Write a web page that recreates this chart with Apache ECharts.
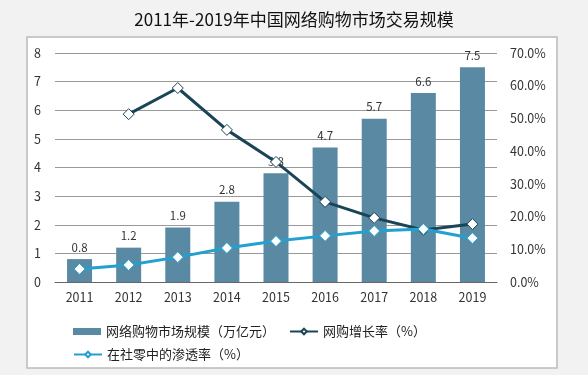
<!DOCTYPE html>
<html lang="zh">
<head>
<meta charset="utf-8">
<title>2011年-2019年中国网络购物市场交易规模</title>
<script src="https://cdn.jsdelivr.net/npm/echarts@6/dist/echarts.min.js"></script>
<style>
  html, body { margin: 0; padding: 0; background: #f2f2f2; }
  #main { width: 588px; height: 375px; }
</style>
</head>
<body>
<div id="main"></div>
<script type="text/javascript">
  // 年份
  var years = ['2011', '2012', '2013', '2014', '2015', '2016', '2017', '2018', '2019'];
  // 网络购物市场规模（万亿元）
  var scale = [0.8, 1.2, 1.9, 2.8, 3.8, 4.7, 5.7, 6.6, 7.5];
  // 网购增长率（%），2011 无数据
  var growth = [null, 51.3, 59.3, 46.5, 36.7, 24.5, 19.6, 15.9, 17.7];
  // 在社零中的渗透率（%）
  var penetration = [4.0, 5.2, 7.6, 10.4, 12.5, 14.1, 15.6, 16.2, 13.4];

  var font = '"Microsoft YaHei", "Noto Sans CJK SC", sans-serif';
  var chart = echarts.init(document.getElementById('main'));

  var option = {
    backgroundColor: '#f2f2f2',
    textStyle: { fontFamily: font },
    title: {
      text: '2011年-2019年中国网络购物市场交易规模',
      left: 'center',
      top: 6,
      textStyle: { fontSize: 17, fontWeight: 'normal', color: '#111', fontFamily: font }
    },
    graphic: [{
      type: 'rect',
      z: -1,
      shape: { x: 27, y: 37, width: 530, height: 331 },
      style: { fill: '#fff', stroke: '#bbb', lineWidth: 1.5 }
    }],
    legend: [{
      left: 68, top: 320, itemGap: 14, itemWidth: 28, itemHeight: 7,
      textStyle: { fontSize: 13, color: '#222' },
      data: [{ name: '网络购物市场规模（万亿元）', icon: 'rect' }, '网购增长率（%）']
    }, {
      left: 68, top: 343, itemWidth: 28, itemHeight: 7,
      textStyle: { fontSize: 13, color: '#222' },
      data: ['在社零中的渗透率（%）']
    }],
    grid: { left: 55, right: 91, top: 53, bottom: 93 },
    xAxis: {
      type: 'category',
      data: years,
      axisTick: { show: false },
      axisLine: { lineStyle: { color: '#666' } },
      axisLabel: { color: '#333', fontSize: 12.5, margin: 9 }
    },
    yAxis: [{
      type: 'value', min: 0, max: 8, interval: 1,
      axisLabel: { color: '#333', fontSize: 12.5, margin: 14 },
      splitLine: { lineStyle: { color: '#999' } }
    }, {
      type: 'value', min: 0, max: 70, interval: 10,
      axisLabel: { color: '#333', fontSize: 12.5, margin: 13,
        formatter: function (v) { return v.toFixed(1) + '%'; } },
      splitLine: { show: false }
    }],
    series: [{
      name: '网络购物市场规模（万亿元）',
      type: 'bar',
      data: scale,
      barWidth: 25,
      itemStyle: { color: '#5a8aa3' },
      label: { show: true, position: 'top', color: '#333', fontSize: 11.5, distance: 6 }
    }, {
      name: '网购增长率（%）',
      type: 'line',
      yAxisIndex: 1,
      data: growth,
      symbol: 'diamond',
      symbolSize: 11,
      lineStyle: { color: '#1b4556', width: 3 },
      itemStyle: { color: '#fff', borderColor: '#1b4556', borderWidth: 1 },
      z: 3
    }, {
      name: '在社零中的渗透率（%）',
      type: 'line',
      yAxisIndex: 1,
      data: penetration,
      symbol: 'diamond',
      symbolSize: 11,
      lineStyle: { color: '#23a0cf', width: 3 },
      itemStyle: { color: '#fff', borderColor: '#23a0cf', borderWidth: 1 },
      z: 4
    }]
  };
  chart.setOption(option);
</script>
</body>
</html>
